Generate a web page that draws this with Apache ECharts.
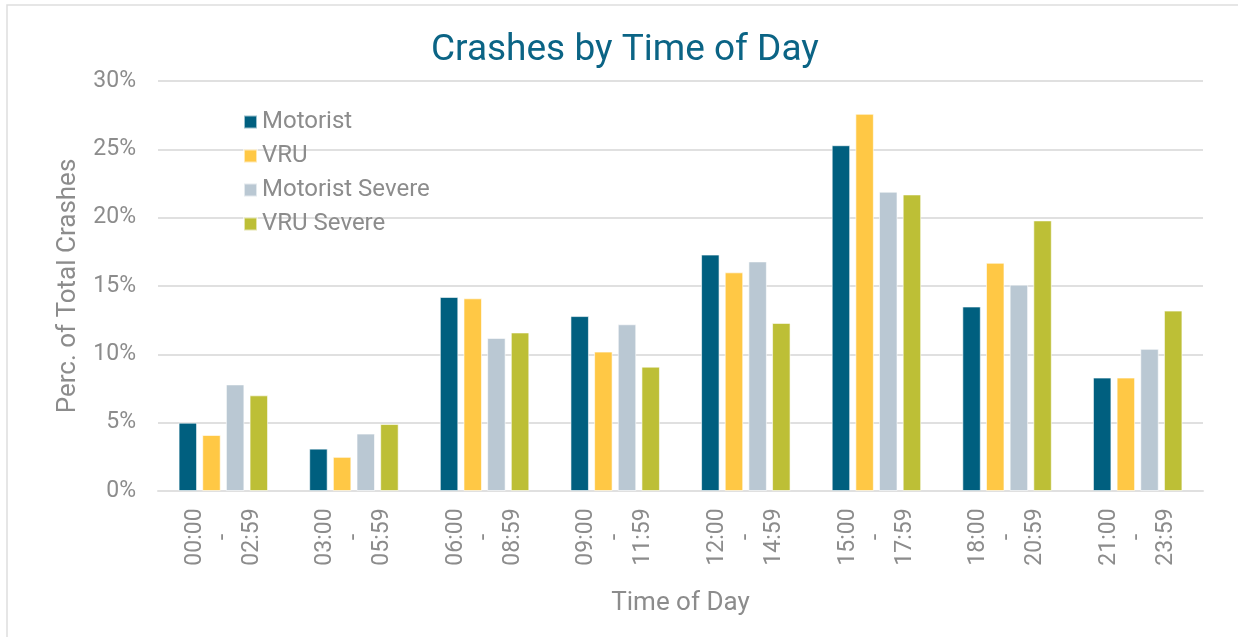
<!DOCTYPE html>
<html lang="en">
<head>
    <meta charset="UTF-8">
    <title>Crashes by Time of Day</title>
    <style>
        html, body { margin: 0; padding: 0; background: #fff; }
        #main { width: 1238px; height: 637px; }
    </style>
</head>
<body>
<div id="main"></div>
<script src="https://cdn.jsdelivr.net/npm/echarts@6/dist/echarts.min.js"></script>
<script>
var timeBins = ['00:00\n-\n02:59', '03:00\n-\n05:59', '06:00\n-\n08:59', '09:00\n-\n11:59',
                '12:00\n-\n14:59', '15:00\n-\n17:59', '18:00\n-\n20:59', '21:00\n-\n23:59'];
var motorist       = [5.0, 3.1, 14.2, 12.8, 17.3, 25.3, 13.5, 8.3];
var vru            = [4.1, 2.5, 14.1, 10.2, 16.0, 27.6, 16.7, 8.3];
var motoristSevere = [7.8, 4.2, 11.2, 12.2, 16.8, 21.9, 15.1, 10.4];
var vruSevere      = [7.0, 4.9, 11.6, 9.1, 12.3, 21.7, 19.8, 13.2];

(function() {
    var myChart = echarts.init(document.getElementById('main'));
    var font = 'Roboto, "Noto Sans", sans-serif';
    var gray = '#8c8c8c';

    function bar(name, data, color) {
        return {
            name: name,
            type: 'bar',
            data: data,
            barGap: '28%',
            barCategoryGap: '31.5%',
            itemStyle: { color: color, borderColor: 'rgba(255,255,255,0.6)', borderWidth: 1 }
        };
    }

    var option = {
        backgroundColor: '#fff',
        animation: false,
        graphic: [{
            type: 'rect',
            shape: { x: 7, y: 5, width: 1400, height: 800 },
            style: { fill: 'none', stroke: '#dedede', lineWidth: 1.5 }
        }],
        title: {
            text: 'Crashes by Time of Day',
            left: 426,
            top: 27,
            textStyle: { color: '#0b6485', fontFamily: font, fontSize: 37, fontWeight: 'normal' }
        },
        legend: {
            orient: 'vertical',
            left: 238,
            top: 105,
            itemWidth: 13,
            itemHeight: 13,
            itemGap: 10,
            icon: 'rect',
            textStyle: { color: gray, fontFamily: font, fontSize: 24, lineHeight: 24 },
            data: ['Motorist', 'VRU', 'Motorist Severe', 'VRU Severe']
        },
        grid: { left: 158, right: 35, top: 81, bottom: 146 },
        xAxis: {
            type: 'category',
            data: timeBins,
            name: 'Time of Day',
            nameLocation: 'middle',
            nameGap: 99,
            nameTextStyle: { color: gray, fontFamily: font, fontSize: 26 },
            axisLine: { lineStyle: { color: '#e0e0e0', width: 2 } },
            axisTick: { show: false },
            axisLabel: {
                rotate: 90,
                align: 'center',
                margin: 46,
                lineHeight: 28.5,
                color: gray,
                fontFamily: font,
                fontSize: 23
            }
        },
        yAxis: {
            type: 'value',
            min: 0,
            max: 30,
            interval: 5,
            name: 'Perc. of Total Crashes',
            nameLocation: 'middle',
            nameGap: 77,
            nameTextStyle: { color: gray, fontFamily: font, fontSize: 26 },
            axisLine: { show: false },
            axisTick: { show: false },
            axisLabel: { formatter: '{value}%', margin: 22, color: gray, fontFamily: font, fontSize: 23 },
            splitLine: { lineStyle: { color: '#e0e0e0', width: 2 } }
        },
        series: [
            bar('Motorist', motorist, '#005f7f'),
            bar('VRU', vru, '#ffc845'),
            bar('Motorist Severe', motoristSevere, '#bac8d3'),
            bar('VRU Severe', vruSevere, '#bdbf36')
        ]
    };

    myChart.setOption(option);
})();
</script>
</body>
</html>
